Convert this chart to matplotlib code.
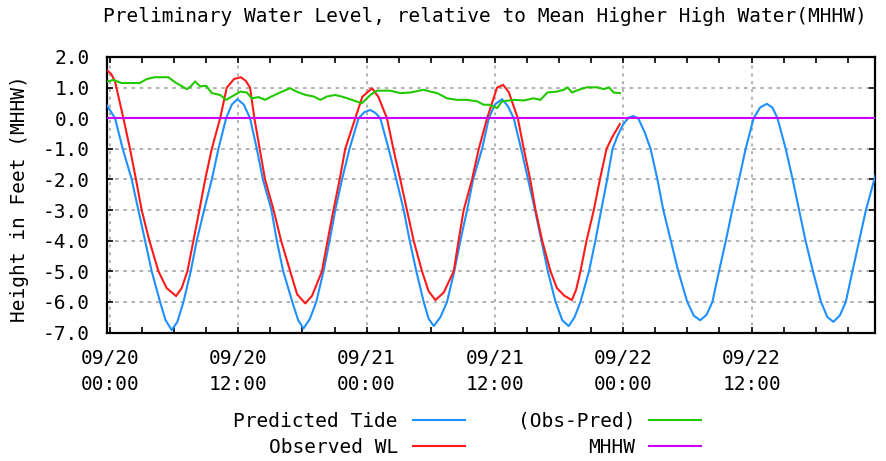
import matplotlib
matplotlib.use("Agg")
import matplotlib.pyplot as plt
from matplotlib.lines import Line2D
from matplotlib.ticker import FixedLocator, MultipleLocator

# ---------------- data (hours from 09/20 00:00, feet relative to MHHW) ----------------
pred_hours = [-0.5, -0.25, 0.47, 1.19, 2.03, 2.65, 3.28, 3.9, 4.68, 5.2, 5.77, 6.3, 6.87, 7.55, 8.11,
              8.8, 9.52, 10.14, 10.86, 11.4, 11.92, 12.5, 13.1, 13.73, 14.3, 15.1, 15.6, 16.2, 17.05,
              17.6, 18.1, 18.7, 19.29, 19.97, 20.54, 21.07, 21.7, 22.4, 23.25, 23.8, 24.34, 24.8,
              25.28, 26.06, 26.78, 27.47, 28.03, 28.65, 29.34, 29.8, 30.28, 30.9, 31.52, 32.2, 32.77,
              33.4, 33.96, 34.8, 35.43, 36.0, 36.67, 37.2, 37.76, 38.45, 39.1, 39.75, 40.35, 40.95,
              41.67, 42.3, 42.9, 43.45, 44.0, 44.8, 45.4, 45.94, 46.5, 47.0, 47.5, 48.0, 48.5, 48.95,
              49.4, 50.0, 50.56, 51.2, 51.75, 52.45, 53.15, 53.99, 54.6, 55.2, 55.8, 56.34, 56.96,
              57.6, 58.2, 58.83, 59.45, 60.2, 60.8, 61.43, 61.95, 62.43, 63.2, 63.85, 64.45, 65.05,
              65.75, 66.5, 67.1, 67.66, 68.25, 68.82, 69.44, 70.07, 70.7, 71.47, 71.8]
pred_values = [0.52, 0.40, 0.0, -1, -2, -3, -4, -5, -6, -6.6, -6.92, -6.65, -6, -5, -4,
               -3, -2, -1, 0, 0.45, 0.62, 0.45, 0, -1, -2, -3, -4, -5, -6,
               -6.6, -6.87, -6.55, -6, -5, -4, -3, -2, -1, 0, 0.2, 0.27, 0.18,
               0, -1, -2, -3, -4, -5, -6, -6.55, -6.79, -6.5, -6, -5, -4,
               -3, -2, -1, 0, 0.45, 0.62, 0.4, 0, -1, -2, -3, -4, -5,
               -6, -6.6, -6.79, -6.5, -6, -5, -4, -3, -2, -1, -0.55, -0.2, 0.02, 0.07,
               0.0, -0.45, -1, -2, -3, -4, -5, -6, -6.45, -6.6, -6.42, -6, -5,
               -4, -3, -2, -1, 0, 0.35, 0.47, 0.35, 0, -1, -2, -3, -4,
               -5, -6, -6.5, -6.65, -6.45, -6, -5, -4, -3, -2.02, -1.6]

obs_hours = [-0.5, -0.25, 0.1, 0.47, 1.25, 1.87, 2.43, 2.96, 3.68, 4.53, 5.3, 6.18, 6.7, 7.24, 7.8,
             8.36, 8.9, 9.52, 10.3, 10.92, 11.6, 12.23, 12.7, 13.1, 13.5, 14.0, 14.5, 15.3, 16.0,
             16.85, 17.5, 18.26, 18.9, 19.82, 20.35, 20.9, 21.48, 22.0, 22.94, 23.6, 24.5, 25.1,
             25.9, 26.5, 27.15, 27.77, 28.4, 29.18, 29.8, 30.43, 31.2, 32.15, 32.6, 33.08, 33.86,
             34.49, 35.27, 36.2, 36.77, 37.3, 38.14, 38.7, 39.3, 39.8, 40.42, 41.2, 41.8, 42.5,
             43.2, 43.6, 44.0, 44.57, 45.25, 45.82, 46.44, 47.0, 47.69]
obs_values = [1.62, 1.56, 1.45, 1.2, 0, -1, -2, -3, -4, -5, -5.55, -5.81, -5.55, -5, -4,
              -3, -2, -1, 0, 1.0, 1.28, 1.34, 1.22, 1.0, 0, -1, -2, -3, -4,
              -5, -5.75, -6.05, -5.8, -5, -4, -3, -2, -1, 0, 0.7, 0.98, 0.7,
              0, -1, -2, -3, -4, -5, -5.65, -5.94, -5.7, -5, -4, -3, -2,
              -1, 0, 1.0, 1.09, 0.85, 0, -1, -2, -3, -4, -5, -5.55, -5.8,
              -5.94, -5.6, -5, -4, -3, -2, -1, -0.6, -0.19]

diff_hours = [-0.5, -0.25, 0.31, 1.09, 2.8, 3.43, 4.2, 5.46, 6.1, 7.2, 7.55, 7.96, 8.43, 9.0, 9.52,
              10.3, 10.86, 11.4, 12.2, 12.8, 13.26, 13.9, 14.5, 15.1, 15.9, 16.85, 17.5, 18.3,
              19.04, 19.67, 20.3, 21.07, 21.85, 22.79, 23.57, 24.35, 24.97, 26.2, 27.15, 28.09,
              29.34, 29.96, 30.6, 31.52, 32.46, 33.39, 34.33, 34.96, 35.43, 36.2, 36.67, 37.76,
              38.7, 39.6, 40.26, 40.9, 41.8, 42.45, 42.8, 43.2, 43.85, 44.6, 45.57, 46.2, 46.67,
              47.1, 47.69]
diff_values = [1.2, 1.2, 1.25, 1.15, 1.15, 1.28, 1.34, 1.34, 1.17, 0.95, 1.04, 1.2, 1.04, 1.06, 0.82,
               0.76, 0.6, 0.71, 0.87, 0.84, 0.65, 0.69, 0.6, 0.71, 0.84, 0.98, 0.86, 0.76,
               0.71, 0.6, 0.71, 0.76, 0.69, 0.58, 0.49, 0.76, 0.9, 0.9, 0.82, 0.84,
               0.93, 0.87, 0.82, 0.65, 0.6, 0.6, 0.55, 0.44, 0.44, 0.33, 0.55, 0.6,
               0.58, 0.65, 0.6, 0.84, 0.87, 0.93, 1.01, 0.84, 0.93, 1.01, 1.01, 0.95, 1.01,
               0.84, 0.82]

mhhw_level = 0.0

x_tick_hours = [0, 12, 24, 36, 48, 60]
x_tick_labels = ["09/20\n00:00", "09/20\n12:00", "09/21\n00:00",
                 "09/21\n12:00", "09/22\n00:00", "09/22\n12:00"]
y_ticks = [2, 1, 0, -1, -2, -3, -4, -5, -6, -7]
y_tick_labels = ["2.0", "1.0", "0.0", "-1.0", "-2.0", "-3.0", "-4.0", "-5.0", "-6.0", "-7.0"]

series_names = ["Predicted Tide", "Observed WL", "(Obs-Pred)", "MHHW"]

# ---------------- styling ----------------
C_PRED = "#1e90ff"
C_OBS = "#ff1a1a"
C_DIFF = "#22c800"
C_MHHW = "#cc00ff"
C_GRID = "#b0b0b0"
FONT = "DejaVu Sans Mono"
FS = 14
LW = 1.5
plt.rcParams["axes.unicode_minus"] = False
plt.rcParams["font.family"] = FONT

W, H = 887, 461
fig = plt.figure(figsize=(W / 100, H / 100), dpi=100)
ax = fig.add_axes([106.7 / W, 1 - 332.5 / H, (875 - 106.7) / W, (332.5 - 57) / H])

ax.set_xlim(-0.31, 71.55)
ax.set_ylim(-7, 2)

# grid
for yv in y_ticks[1:-1]:
    if yv == 0:
        continue
    ax.axhline(yv, color=C_GRID, lw=1.4, dashes=(1.8, 2.4), zorder=1)
for xv in x_tick_hours:
    ax.axvline(xv, color=C_GRID, lw=1.4, dashes=(1.5, 2.5), zorder=1)

ax.plot(pred_hours, pred_values, color=C_PRED, lw=LW, zorder=3)
ax.plot(obs_hours, obs_values, color=C_OBS, lw=LW, zorder=4)
ax.plot(diff_hours, diff_values, color=C_DIFF, lw=LW, zorder=5)
ax.axhline(mhhw_level, color=C_MHHW, lw=LW, zorder=6)

ax.xaxis.set_major_locator(FixedLocator(x_tick_hours))
ax.set_xticklabels(x_tick_labels, fontsize=FS, linespacing=1.45)
ax.xaxis.set_minor_locator(MultipleLocator(3))
ax.yaxis.set_major_locator(FixedLocator(y_ticks))
ax.set_yticklabels(y_tick_labels, fontsize=FS)
ax.tick_params(axis="both", which="both", direction="in", top=True, right=True,
               length=4, width=1.2, color="black")
ax.tick_params(axis="x", which="major", pad=12)
ax.tick_params(axis="y", which="major", pad=12)
for s in ax.spines.values():
    s.set_linewidth(1.6)
    s.set_color("black")

fig.text(485 / W, 1 - 17 / H, "Preliminary Water Level, relative to Mean Higher High Water(MHHW)",
         ha="center", va="center", fontsize=FS)
fig.text(20 / W, 1 - 199 / H, "Height in Feet (MHHW)", rotation=90,
         ha="center", va="center", fontsize=FS)

# legend
leg_items = [(series_names[0], C_PRED, 398, 413, 465, 420),
             (series_names[1], C_OBS, 398, 413, 465, 446),
             (series_names[2], C_DIFF, 635, 649, 701, 420),
             (series_names[3], C_MHHW, 635, 649, 701, 446)]
for name, col, tx, x0, x1, yy in leg_items:
    fig.text(tx / W, 1 - (yy + 1) / H, name, ha="right", va="center", fontsize=FS)
    fig.add_artist(Line2D([x0 / W, x1 / W], [1 - yy / H, 1 - yy / H], color=col, lw=LW,
                          transform=fig.transFigure))

fig.savefig("out.png", dpi=100)
